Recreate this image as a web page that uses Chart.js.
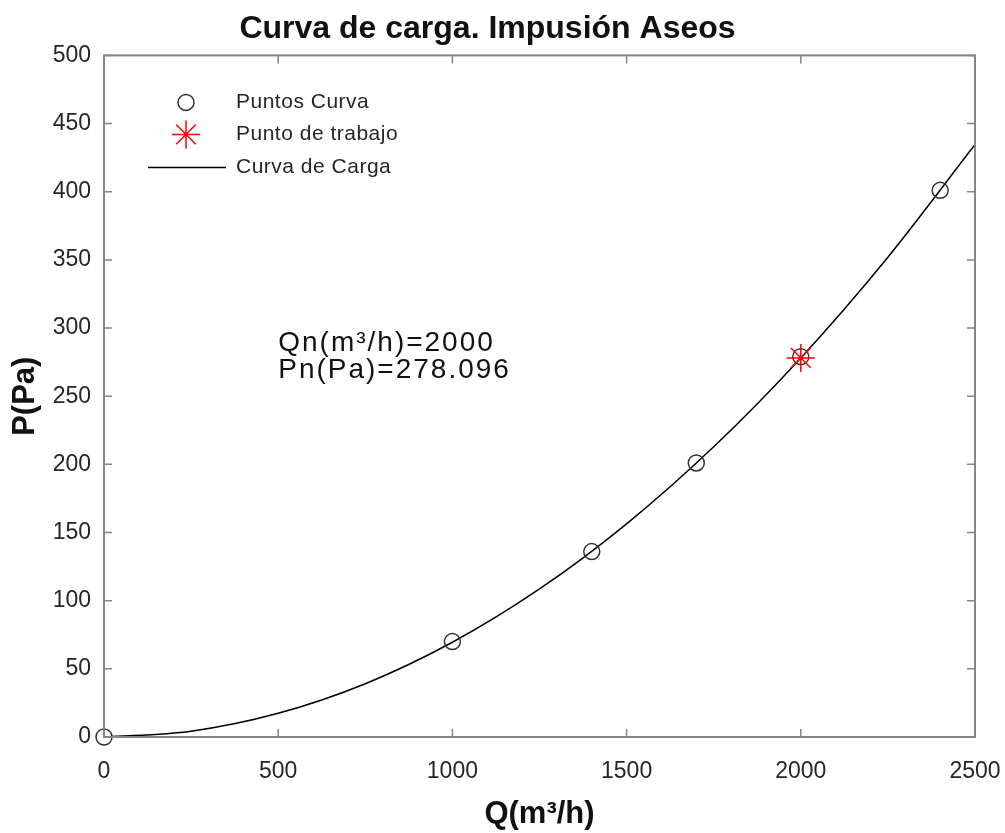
<!DOCTYPE html>
<html lang="es">
<head>
  <meta charset="UTF-8">
  <title>Curva de carga</title>
  <script src="https://cdn.jsdelivr.net/npm/chart.js"></script>
  <style>
    body { margin: 0; background: #fff; }
  </style>
</head>
<body>
  <canvas id="curvaChart" width="1005" height="833"></canvas>

  <script>
    // puntos medidos
    const puntosQ = [0, 1000, 1400, 1700, 2000, 2400];
    const puntosP = [0, 70, 136, 201, 279, 401];

    // punto de trabajo
    const qn = 2000;
    const pn = 278.096;

    // curva de carga
    const curvaQ = [0, 250, 500, 750, 1000, 1250, 1500, 1750, 2000, 2250, 2500];
    const curvaP = [0, 4.3, 17.4, 39.1, 69.5, 108.6, 156.4, 212.9, 278.1, 352.0, 434.6];

    const xTicks = [0, 500, 1000, 1500, 2000, 2500];
    const yTicks = [0, 50, 100, 150, 200, 250, 300, 350, 400, 450, 500];

    const axisColor = '#858585';
    const textColor = '#262626';
    const font = "Arial, 'Liberation Sans', Helvetica, sans-serif";

    // caja y marcas hacia dentro, estilo matlab
    const caja = {
      id: 'caja',
      afterDraw(chart) {
        const { ctx, chartArea: a, scales: { x, y } } = chart;
        ctx.save();
        ctx.strokeStyle = axisColor;
        ctx.lineWidth = 2;
        ctx.strokeRect(a.left, a.top, a.right - a.left, a.bottom - a.top);
        ctx.lineWidth = 1.5;
        ctx.beginPath();
        xTicks.forEach(v => {
          const px = x.getPixelForValue(v);
          ctx.moveTo(px, a.bottom); ctx.lineTo(px, a.bottom - 8);
          ctx.moveTo(px, a.top); ctx.lineTo(px, a.top + 8);
        });
        yTicks.forEach(v => {
          const py = y.getPixelForValue(v);
          ctx.moveTo(a.left, py); ctx.lineTo(a.left + 8, py);
          ctx.moveTo(a.right, py); ctx.lineTo(a.right - 8, py);
        });
        ctx.stroke();
        ctx.restore();
      }
    };

    // leyenda dentro del area + texto Qn/Pn
    const leyenda = {
      id: 'leyenda',
      afterDraw(chart) {
        const { ctx, chartArea: a, scales: { x, y } } = chart;
        const ds = chart.data.datasets;
        ctx.save();
        const cx = a.left + 82;
        const rows = [a.top + 47, a.top + 79, a.top + 112];

        // circulo
        ctx.strokeStyle = ds[1].borderColor;
        ctx.lineWidth = ds[1].borderWidth;
        ctx.beginPath();
        ctx.arc(cx, rows[0], ds[1].pointRadius, 0, Math.PI * 2);
        ctx.stroke();

        // asterisco
        const r = ds[0].pointRadius;
        ctx.strokeStyle = ds[0].borderColor;
        ctx.lineWidth = ds[0].borderWidth;
        ctx.beginPath();
        ctx.moveTo(cx - r, rows[1]); ctx.lineTo(cx + r, rows[1]);
        ctx.moveTo(cx, rows[1] - r); ctx.lineTo(cx, rows[1] + r);
        const d = r * 0.7071;
        ctx.moveTo(cx - d, rows[1] - d); ctx.lineTo(cx + d, rows[1] + d);
        ctx.moveTo(cx - d, rows[1] + d); ctx.lineTo(cx + d, rows[1] - d);
        ctx.stroke();

        // linea
        ctx.strokeStyle = ds[2].borderColor;
        ctx.lineWidth = ds[2].borderWidth;
        ctx.beginPath();
        ctx.moveTo(cx - 38, rows[2]); ctx.lineTo(cx + 40, rows[2]);
        ctx.stroke();

        ctx.letterSpacing = '0.5px';
        ctx.fillStyle = textColor;
        ctx.font = '21px ' + font;
        ctx.textBaseline = 'middle';
        ctx.fillText(ds[1].label, a.left + 132, rows[0]);
        ctx.fillText(ds[0].label, a.left + 132, rows[1]);
        ctx.fillText(ds[2].label, a.left + 132, rows[2]);

        // anotacion
        ctx.letterSpacing = '2px';
        ctx.fillStyle = '#111';
        ctx.font = '28px ' + font;
        ctx.textBaseline = 'alphabetic';
        const tx = x.getPixelForValue(500);
        ctx.fillText('Qn(m³/h)=' + qn, tx, y.getPixelForValue(283));
        ctx.fillText('Pn(Pa)=' + pn, tx, y.getPixelForValue(263));
        ctx.restore();
      }
    };

    const ctx = document.getElementById('curvaChart').getContext('2d');

    new Chart(ctx, {
      type: 'scatter',
      data: {
        datasets: [
          {
            label: 'Punto de trabajo',
            data: [{ x: qn, y: pn }],
            pointStyle: 'star',
            pointRadius: 14,
            borderColor: '#ff0000',
            backgroundColor: '#ff0000',
            borderWidth: 1.5,
            clip: false
          },
          {
            label: 'Puntos Curva',
            data: puntosQ.map((q, i) => ({ x: q, y: puntosP[i] })),
            pointStyle: 'circle',
            pointRadius: 8,
            borderColor: '#333333',
            backgroundColor: 'rgba(0,0,0,0)',
            borderWidth: 1.5,
            clip: false
          },
          {
            label: 'Curva de Carga',
            type: 'line',
            data: curvaQ.map((q, i) => ({ x: q, y: curvaP[i] })),
            borderColor: '#000000',
            borderWidth: 1.5,
            pointRadius: 0,
            fill: false,
            cubicInterpolationMode: 'monotone'
          }
        ]
      },
      options: {
        responsive: false,
        animation: false,
        events: [],
        layout: { padding: { left: 0, right: 30, top: 0, bottom: 0 } },
        plugins: {
          legend: { display: false },
          tooltip: { enabled: false },
          title: {
            display: true,
            text: 'Curva de carga. Impusión Aseos',
            color: '#111',
            font: { family: font, size: 32, weight: 'bold' },
            padding: { top: 10, bottom: 7 }
          }
        },
        scales: {
          x: {
            type: 'linear',
            min: 0,
            max: 2500,
            grid: { display: false },
            border: { display: false },
            ticks: {
              stepSize: 500,
              color: textColor,
              font: { family: font, size: 23 },
              padding: 13,
              maxRotation: 0,
              callback: v => String(v)
            },
            title: {
              display: true,
              text: 'Q(m³/h)',
              color: '#111',
              font: { family: font, size: 31, weight: 'bold' },
              padding: { top: 0, bottom: 0 }
            },
            afterFit(scale) {
              scale.height = 96;
              scale.paddingLeft = 0;
              scale.paddingRight = 0;
            }
          },
          y: {
            type: 'linear',
            min: 0,
            max: 500,
            grid: { display: false },
            border: { display: false },
            ticks: {
              stepSize: 50,
              color: textColor,
              font: { family: font, size: 23 },
              padding: 5,
              callback: v => String(v)
            },
            title: {
              display: true,
              text: 'P(Pa)',
              color: '#111',
              font: { family: font, size: 31, weight: 'bold' },
              padding: { top: 7, bottom: 0 }
            },
            afterFit(scale) {
              scale.width = 104;
              scale.paddingTop = 0;
              scale.paddingBottom = 0;
            }
          }
        }
      },
      plugins: [caja, leyenda]
    });
  </script>
</body>
</html>
